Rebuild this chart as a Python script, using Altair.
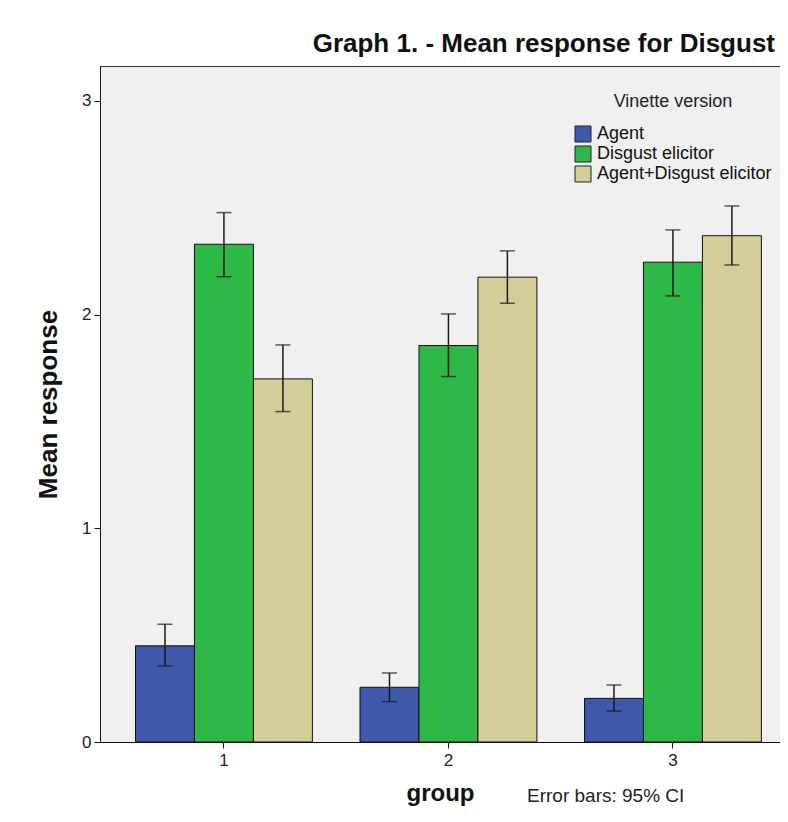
import altair as alt
import pandas as pd

groups = ["1", "2", "3"]
series = ["Agent", "Disgust elicitor", "Agent+Disgust elicitor"]
colors = ["#3E58AC", "#2EB848", "#D3CE97"]

mean_agent = [0.450, 0.256, 0.204]
mean_disgust = [2.329, 1.855, 2.245]
mean_both = [1.699, 2.175, 2.369]

lo_agent = [0.356, 0.189, 0.145]
lo_disgust = [2.177, 1.710, 2.087]
lo_both = [1.546, 2.053, 2.232]

hi_agent = [0.551, 0.323, 0.267]
hi_disgust = [2.477, 2.003, 2.396]
hi_both = [1.858, 2.298, 2.508]

means = [mean_agent, mean_disgust, mean_both]
los = [lo_agent, lo_disgust, lo_both]
his = [hi_agent, hi_disgust, hi_both]

records = []
for s, m, l, h in zip(series, means, los, his):
    for g, mv, lv, hv in zip(groups, m, l, h):
        records.append({"group": g, "series": s, "mean": mv, "lo": lv, "hi": hv})
df = pd.DataFrame(records)

FONT = "Liberation Sans"
W, H = 680, 676

x_enc = alt.X(
    "group:N",
    sort=groups,
    scale=alt.Scale(paddingInner=0.212, paddingOuter=0.1205, align=0.656),
    axis=alt.Axis(
        title="group", labelAngle=0, labelFontSize=17, labelColor="#222",
        labelFont=FONT, labelPadding=4, tickSize=6, tickColor="#111",
        domainColor="#111", titleFont=FONT, titleFontSize=24,
        titleFontWeight="bold", titleColor="#111", titlePadding=13,
    ),
)
xoff = alt.XOffset("series:N", sort=series,
                   scale=alt.Scale(domain=series, paddingInner=0, paddingOuter=0))
y_scale = alt.Scale(domain=[0, 3.163], nice=False, zero=True)

base = alt.Chart(df)

bars = base.mark_bar(stroke="#111", strokeWidth=1).encode(
    x=x_enc,
    xOffset=xoff,
    y=alt.Y(
        "mean:Q", scale=y_scale,
        axis=alt.Axis(
            title="Mean response", values=[0, 1, 2, 3], format="d", grid=False,
            labelFontSize=17, labelColor="#222", labelFont=FONT, labelPadding=3,
            tickSize=6, tickColor="#111", domainColor="#111",
            titleFont=FONT, titleFontSize=26, titleFontWeight="bold",
            titleColor="#111", titlePadding=20,
        ),
    ),
    color=alt.Color(
        "series:N",
        scale=alt.Scale(domain=series, range=colors),
        legend=alt.Legend(
            title="Vinette version", orient="none", legendX=474, legendY=27,
            titleFont=FONT, titleFontSize=18, titleFontWeight="normal",
            titleColor="#222", titleAnchor="middle", titlePadding=14,
            labelFont=FONT, labelFontSize=18, labelColor="#111",
            symbolType="square", symbolSize=256, symbolStrokeColor="#222",
            symbolStrokeWidth=1, symbolOpacity=1, rowPadding=0, labelOffset=5,
            labelLimit=400,
        ),
    ),
)

rules = base.mark_rule(color="#1a1a1a", strokeWidth=1.5).encode(
    x=x_enc, xOffset=xoff,
    y=alt.Y("lo:Q", scale=y_scale), y2="hi:Q",
)
cap_hi = base.mark_tick(color="#1a1a1a", size=15, thickness=1.5, orient="horizontal").encode(
    x=x_enc, xOffset=xoff, y=alt.Y("hi:Q", scale=y_scale),
)
cap_lo = base.mark_tick(color="#1a1a1a", size=15, thickness=1.5, orient="horizontal").encode(
    x=x_enc, xOffset=xoff, y=alt.Y("lo:Q", scale=y_scale),
)

note = alt.Chart(pd.DataFrame({"t": ["Error bars: 95% CI"]})).mark_text(
    font=FONT, fontSize=19, color="#222", align="left", baseline="alphabetic"
).encode(x=alt.value(427), y=alt.value(736), text="t:N")

chart = alt.layer(bars, rules, cap_hi, cap_lo, note).properties(
    width=W, height=H,
    background="white",
    autosize=alt.AutoSizeParams(type="none"),
    padding={"left": 92, "top": 58, "right": 0, "bottom": 68},
    title=alt.TitleParams(
        "Graph 1. - Mean response for Disgust", anchor="end", font=FONT,
        fontSize=26, fontWeight="bold", color="#111", offset=9, dx=-5,
    ),
).configure_view(fill="#F0F0F0", stroke="#333", strokeWidth=1)

chart.save("out.html", embed_options={"renderer": "svg", "actions": False})
